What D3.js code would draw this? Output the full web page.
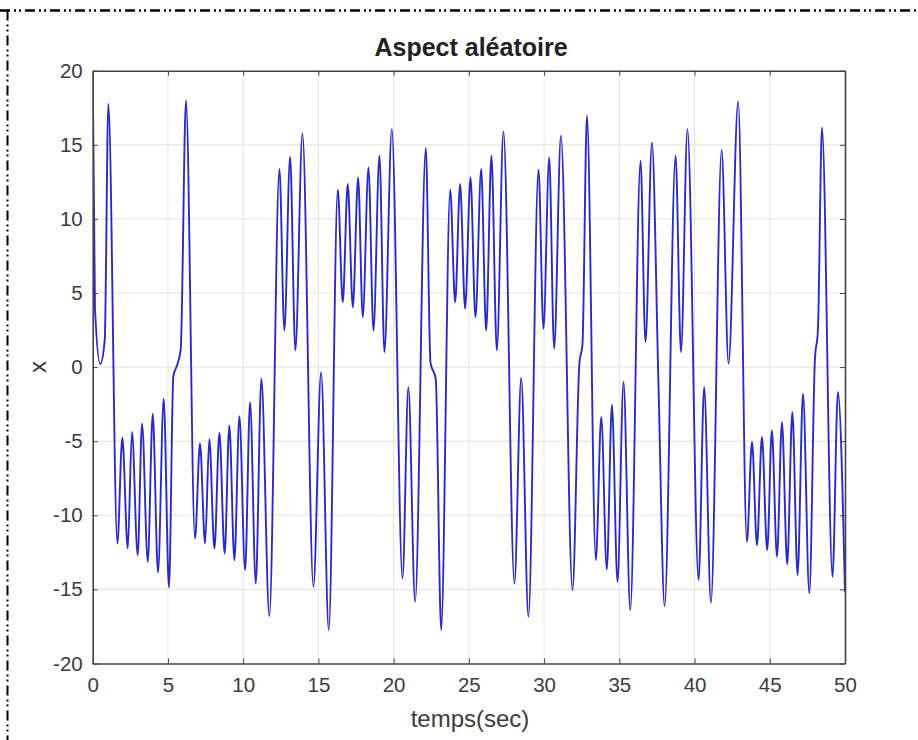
<!DOCTYPE html>
<html>
<head>
<meta charset="utf-8">
<script src="https://cdn.jsdelivr.net/npm/d3@7"></script>
<style>
  html, body { margin: 0; padding: 0; background: #fff; }
  svg { display: block; }
  text { font-family: "Liberation Sans", Arial, Helvetica, sans-serif; }
</style>
</head>
<body>
<svg id="chart" width="918" height="740"></svg>
<script>
// Time samples (s) at the turning points and shoulders of the trajectory
const timeSec = [
  0, 0.15, 0.5, 0.8, 1.04, 1.64, 1.97, 2.33, 2.61, 2.99, 3.28, 3.66, 3.99, 4.34, 4.72, 5.07,
  5.36, 5.6, 5.85, 6.2, 6.8, 7.13, 7.47, 7.75, 8.09, 8.42, 8.77, 9.08, 9.42, 9.75, 10.13,
  10.46, 10.84, 11.21, 11.74, 12.41, 12.74, 13.12, 13.47, 13.94, 14.67, 15.18, 15.69,
  16.29, 16.62, 16.95, 17.29, 17.64, 17.95, 18.33, 18.66, 19.06, 19.39, 19.88, 20.59,
  20.98, 21.43, 22.14, 22.45, 22.8, 23.16, 23.76, 24.09, 24.42, 24.75, 25.11, 25.44,
  25.82, 26.15, 26.5, 26.86, 27.3, 28.03, 28.48, 28.96, 29.63, 29.96, 30.34, 30.67,
  31.12, 31.89, 32.35, 32.55, 32.85, 33.44, 33.8, 34.17, 34.51, 34.88, 35.28, 35.73,
  36.41, 36.74, 37.17, 37.6, 38.01, 38.74, 39.1, 39.53, 40.27, 40.64, 41.09, 41.8,
  42.26, 42.9, 43.48, 43.82, 44.15, 44.48, 44.83, 45.14, 45.48, 45.81, 46.16, 46.5,
  46.85, 47.21, 47.63, 48.0, 48.2, 48.47, 49.17, 49.53, 50.0
];
// x value at each of those instants
const xValue = [
  19.8, 4, 0.2, 1.8, 17.75, -11.9, -4.76, -12.24, -4.38, -12.69, -3.82, -13.14, -3.14, -13.86, -2.13, -14.87,
  -0.6, 0.1, 1.2, 18.0, -11.57, -5.16, -11.9, -4.87, -12.24, -4.44, -12.58, -3.95, -13.03, -3.32, -13.7,
  -2.36, -14.6, -0.78, -16.8, 13.37, 2.47, 14.2, 1.13, 15.77, -14.82, -0.34, -17.74,
  11.97, 4.38, 12.36, 4.04, 12.8, 3.37, 13.48, 2.47, 14.27, 1.01, 16.06, -14.26,
  -1.35, -15.83, 14.78, 0.3, -0.8, -17.74, 11.97, 4.38, 12.36, 3.93, 12.8, 3.37,
  13.37, 2.47, 14.27, 1.12, 15.88, -14.6, -0.72, -16.85, 13.32, 2.59, 14.15, 1.24,
  15.61, -15.05, 0.3, 1.5, 16.96, -13.03, -3.37, -13.65, -2.54, -14.49, -1.01, -16.39,
  13.93, 1.69, 15.16, -1.0, -16.13, 14.27, 1.01, 16.06, -14.37, -1.35, -15.9, 14.65,
  0.23, 17.93, -11.79, -5.05, -12.01, -4.72, -12.35, -4.27, -12.8, -3.71, -13.3, -3.03,
  -14.04, -1.8, -15.27, 0.5, 2.5, 16.17, -14.15, -1.68, -15.2
];
const xTicks = [0, 5, 10, 15, 20, 25, 30, 35, 40, 45, 50];
const yTicks = [-20, -15, -10, -5, 0, 5, 10, 15, 20];
const titleText = "Aspect aléatoire";
const xLabelText = "temps(sec)";
const yLabelText = "x";

const svg = d3.select("#chart");
const W = 918, H = 740;
const plot = { left: 92.7, right: 845, top: 70.7, bottom: 663.5 };
const axisColor = "#444444";
const textColor = "#3c3c3c";

// Outer dash-dot-dot frame
svg.append("line")
  .attr("x1", 0).attr("x2", W).attr("y1", 10.5).attr("y2", 10.5)
  .attr("stroke", "#000").attr("stroke-width", 2.5)
  .attr("stroke-dasharray", "10,4,2,3,2,4");
svg.append("line")
  .attr("x1", 7.5).attr("x2", 7.5).attr("y1", 10.5).attr("y2", H)
  .attr("stroke", "#000").attr("stroke-width", 2)
  .attr("stroke-dasharray", "10,4,2,3,2,4");

const x = d3.scaleLinear().domain([0, 50]).range([plot.left, plot.right]);
const y = d3.scaleLinear().domain([-20, 20]).range([plot.bottom, plot.top]);

// Grid
const grid = svg.append("g").attr("stroke", "#e3e3e3").attr("stroke-width", 1);
grid.selectAll(".gx").data(xTicks.slice(1, -1)).join("line")
  .attr("x1", d => x(d)).attr("x2", d => x(d))
  .attr("y1", plot.top).attr("y2", plot.bottom);
grid.selectAll(".gy").data(yTicks.slice(1, -1)).join("line")
  .attr("y1", d => y(d)).attr("y2", d => y(d))
  .attr("x1", plot.left).attr("x2", plot.right);

// Signal
const pts = timeSec.map((t, i) => [t, xValue[i]]);
const line = d3.line().x(d => x(d[0])).y(d => y(d[1])).curve(d3.curveMonotoneX);
svg.append("defs").append("clipPath").attr("id", "clip")
  .append("rect").attr("x", plot.left).attr("y", plot.top)
  .attr("width", plot.right - plot.left).attr("height", plot.bottom - plot.top);
svg.append("path")
  .datum(pts)
  .attr("clip-path", "url(#clip)")
  .attr("d", line)
  .attr("fill", "none")
  .attr("stroke", "#2a2acc")
  .attr("stroke-width", 1.9)
  .attr("stroke-linejoin", "round");

// Axes (ticks pointing inward on all four sides); plain hyphen for negatives
const tickLen = 5;
const fmt = d => String(d);
const bottomAxis = d3.axisBottom(x).tickValues(xTicks).tickSizeInner(-tickLen).tickSizeOuter(0).tickPadding(14).tickFormat(fmt);
const topAxis = d3.axisTop(x).tickValues(xTicks).tickSizeInner(-tickLen).tickSizeOuter(0).tickFormat("");
const leftAxis = d3.axisLeft(y).tickValues(yTicks).tickSizeInner(-tickLen).tickSizeOuter(0).tickPadding(10).tickFormat(fmt);
const rightAxis = d3.axisRight(y).tickValues(yTicks).tickSizeInner(-tickLen).tickSizeOuter(0).tickFormat("");

function style(g) {
  g.select(".domain").attr("stroke", axisColor).attr("stroke-width", 1.6);
  g.selectAll(".tick line").attr("stroke", axisColor).attr("stroke-width", 1);
  g.selectAll(".tick text").attr("fill", textColor).style("font-size", "20.5px")
    .style("font-family", "'Liberation Sans', Arial, sans-serif");
}
svg.append("g").attr("transform", `translate(0,${plot.bottom})`).call(bottomAxis).call(style);
svg.append("g").attr("transform", `translate(0,${plot.top})`).call(topAxis).call(style);
svg.append("g").attr("transform", `translate(${plot.left},0)`).call(leftAxis).call(style);
svg.append("g").attr("transform", `translate(${plot.right},0)`).call(rightAxis).call(style);

// Title and axis labels
svg.append("text")
  .attr("x", 471).attr("y", 56)
  .attr("text-anchor", "middle")
  .attr("font-size", 25).attr("font-weight", "bold").attr("fill", "#222")
  .text(titleText);
svg.append("text")
  .attr("x", 470).attr("y", 727)
  .attr("text-anchor", "middle")
  .attr("font-size", 24).attr("fill", textColor)
  .text(xLabelText);
svg.append("text")
  .attr("transform", `translate(46,${(plot.top + plot.bottom) / 2}) rotate(-90)`)
  .attr("text-anchor", "middle")
  .attr("font-size", 24).attr("fill", textColor)
  .text(yLabelText);
</script>
</body>
</html>
